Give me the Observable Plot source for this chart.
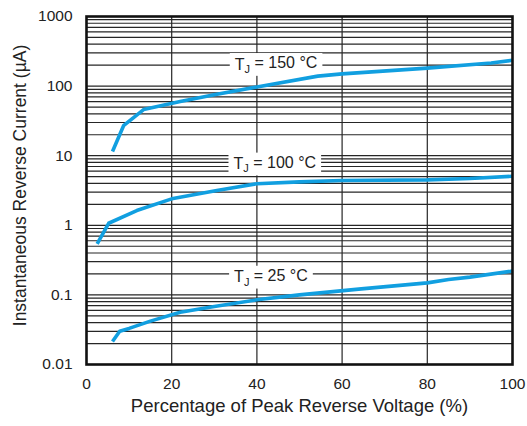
<!DOCTYPE html>
<html>
<head>
<meta charset="utf-8">
<script src="https://cdn.jsdelivr.net/npm/d3@7"></script>
<script src="https://cdn.jsdelivr.net/npm/@observablehq/plot@0.6"></script>
<style>
  html, body { margin: 0; padding: 0; background: #fff; }
  #chart { width: 527px; height: 426px; }
  svg { font-family: "Liberation Sans", Arial, Helvetica, sans-serif; }
</style>
</head>
<body>
<div id="chart"></div>
<script>
// Reverse current curves (x = % of peak reverse voltage, y = µA)
const t150X = [6.1, 8.7, 13.4, 22, 30, 40, 54.3, 60, 80, 95, 100];
const t150Y = [11.5, 27, 46, 60, 75, 97, 139, 150, 181, 215, 235];

const t100X = [2.5, 5.2, 11.8, 20, 30.6, 40, 50, 60, 80, 90, 100];
const t100Y = [0.54, 1.07, 1.63, 2.4, 3.16, 3.95, 4.2, 4.4, 4.5, 4.7, 5.07];

const t25X = [6.1, 7.8, 10, 15, 22, 30, 40, 50, 64.5, 80, 85, 90, 100];
const t25Y = [0.0214, 0.030, 0.033, 0.042, 0.0565, 0.068, 0.085, 0.1, 0.122, 0.149, 0.166, 0.18, 0.22];

const xTicks = [0, 20, 40, 60, 80, 100];
const yTicks = [0.01, 0.1, 1, 10, 100, 1000];
const xGrid = [20, 40, 60, 80];
const yGrid = [];
for (const dec of [0.01, 0.1, 1, 10, 100]) for (let m = 1; m <= 9; m++) yGrid.push(+(dec * m).toPrecision(3));

const labelTemps = ["150", "100", "25"];
const labelX = [44.5, 44.2, 43.3];
const labelY = [205, 7.6, 0.18];

const xTitle = "Percentage of Peak Reverse Voltage (%)";
const yTitle = "Instantaneous Reverse Current (µA)";

const toRows = (xs, ys, s) => xs.map((x, i) => ({x, y: ys[i], s}));
const curves = [...toRows(t150X, t150Y, "150"), ...toRows(t100X, t100Y, "100"), ...toRows(t25X, t25Y, "25")];
const labels = labelTemps.map((t, i) => ({t, x: labelX[i], y: labelY[i]}));

const chart = Plot.plot({
  width: 527,
  height: 426,
  marginLeft: 86,
  marginRight: 15,
  marginTop: 16,
  marginBottom: 62,
  style: {fontFamily: '"Liberation Sans", Arial, Helvetica, sans-serif', color: "#222", background: "#fff"},
  x: {domain: [0, 100]},
  y: {type: "log", domain: [0.01, 1000]},
  marks: [
    Plot.ruleY(yGrid, {stroke: "#262626", strokeWidth: 1.2}),
    Plot.ruleX(xGrid, {stroke: "#262626", strokeWidth: 1.2}),
    Plot.text(labels, {x: "x", y: "y", text: d => "T" + d.t, className: "tlabel", fontSize: 16, fill: "#222", textAnchor: "middle"}),
    Plot.line(curves, {x: "x", y: "y", z: "s", stroke: "#119fe0", strokeWidth: 3.6, strokeLinejoin: "round", strokeLinecap: "butt"}),
    Plot.frame({stroke: "#111", strokeWidth: 2.6}),
    Plot.axisX(xTicks, {tickSize: 0, tickPadding: 13, fontSize: 15.5, label: null}),
    Plot.axisY(yTicks, {anchor: "left", tickSize: 0, tickPadding: 14, fontSize: 15.5, label: null, tickFormat: d => String(d)}),
    Plot.text([xTitle], {frameAnchor: "bottom", dy: 47, fontSize: 18.5, fill: "#222"}),
    Plot.text([yTitle], {frameAnchor: "left", textAnchor: "middle", dx: -66, dy: -5, rotate: -90, fontSize: 17.5, fill: "#222"})
  ]
});
document.getElementById("chart").appendChild(chart);

// subscripted labels with white background boxes
d3.select(chart).selectAll("g.tlabel text").each(function() {
  const node = this;
  const el = d3.select(node);
  const txt = el.text().slice(1);
  el.text(null);
  el.append("tspan").text("T");
  el.append("tspan").attr("dy", "0.3em").attr("font-size", 11).text("J");
  el.append("tspan").attr("dy", "-0.3em").text(" = " + txt + " \u00B0C");
  const bb = node.getBBox();
  const rect = document.createElementNS("http://www.w3.org/2000/svg", "rect");
  rect.setAttribute("x", bb.x - 5);
  rect.setAttribute("y", bb.y - 1);
  rect.setAttribute("width", bb.width + 10);
  rect.setAttribute("height", bb.height + 2);
  rect.setAttribute("fill", "#fff");
  const tr = node.getAttribute("transform");
  if (tr) rect.setAttribute("transform", tr);
  node.parentNode.insertBefore(rect, node);
});
</script>
</body>
</html>
